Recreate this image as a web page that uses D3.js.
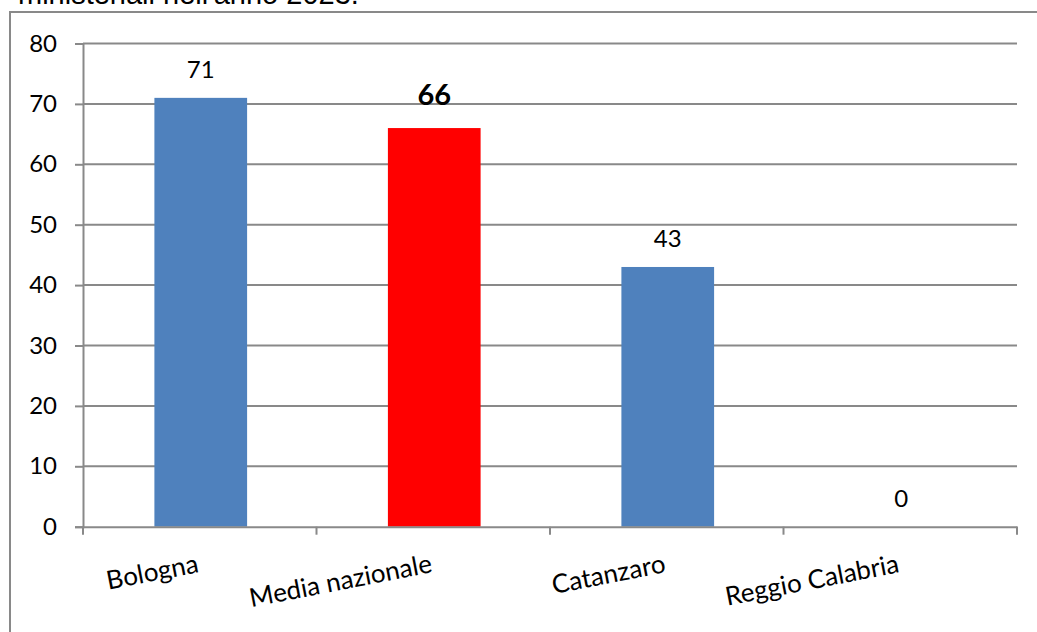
<!DOCTYPE html>
<html>
<head>
<meta charset="utf-8">
<script src="https://cdn.jsdelivr.net/npm/d3@7/dist/d3.min.js"></script>
<style>
  html, body { margin: 0; padding: 0; background: #fff; overflow: hidden; }
  svg { display: block; }
</style>
</head>
<body>
<svg id="chart" width="1037" height="632"></svg>
<script>
const categories = ["Bologna", "Media nazionale", "Catanzaro", "Reggio Calabria"];
const values = [71, 66, 43, 0];
const barColors = ["#4F81BD", "#FF0000", "#4F81BD", "#4F81BD"];
const highlighted = ["Media nazionale"];
const yTicks = [0, 10, 20, 30, 40, 50, 60, 70, 80];
const titleText = "ministeriali nell'anno 2023.";

const svg = d3.select("#chart");
const W = 1037, H = 632;
const plot = { left: 83, right: 1017, top: 43.5, bottom: 526.7 };
const gridColor = "#898989";
const labelFont = "Lato, 'Open Sans', sans-serif";

// Title (cut off at the top, as in the reference)
svg.append("text")
  .attr("x", 18).attr("y", 4)
  .attr("font-family", "'Liberation Sans', Arial, sans-serif")
  .attr("font-size", 29)
  .attr("fill", "#000")
  .text(titleText);

// Chart frame
svg.append("rect")
  .attr("x", 10).attr("y", 12)
  .attr("width", W + 20).attr("height", H + 20)
  .attr("fill", "#fff")
  .attr("stroke", gridColor).attr("stroke-width", 2);

const x = d3.scaleBand().domain(categories).range([plot.left, plot.right]).padding(0);
const y = d3.scaleLinear().domain([0, 80]).range([plot.bottom, plot.top]);

// Gridlines
svg.append("g").selectAll("line").data(yTicks.filter(t => t > 0)).join("line")
  .attr("x1", plot.left).attr("x2", plot.right)
  .attr("y1", d => y(d)).attr("y2", d => y(d))
  .attr("stroke", gridColor).attr("stroke-width", 2);

// Y axis
const yAxis = svg.append("g")
  .attr("transform", `translate(${plot.left},0)`)
  .call(d3.axisLeft(y).tickValues(yTicks).tickSize(8).tickPadding(18));
yAxis.select(".domain").attr("stroke", gridColor).attr("stroke-width", 2);
yAxis.selectAll(".tick line").attr("stroke", gridColor).attr("stroke-width", 2);
yAxis.selectAll(".tick text")
  .attr("font-family", labelFont).attr("font-size", 24).attr("fill", "#000");

// Bars
const barFrac = 0.397;
const bw = x.bandwidth() * barFrac;
svg.append("g").selectAll("rect").data(categories).join("rect")
  .attr("x", (d) => x(d) + x.bandwidth() / 2 - bw / 2 + 1)
  .attr("width", bw)
  .attr("y", (d, i) => y(values[i]))
  .attr("height", (d, i) => y(0) - y(values[i]))
  .attr("fill", (d, i) => barColors[i]);

// X axis
const xAxis = svg.append("g")
  .attr("transform", `translate(0,${plot.bottom})`)
  .call(d3.axisBottom(x).tickValues([]).tickSizeOuter(0));
xAxis.select(".domain").attr("stroke", gridColor).attr("stroke-width", 2);
// Tick marks at category boundaries
const boundaries = categories.map(c => x(c)).concat([x(categories[categories.length - 1]) + x.bandwidth()]);
svg.append("g").selectAll("line").data(boundaries).join("line")
  .attr("x1", d => d).attr("x2", d => d)
  .attr("y1", plot.bottom).attr("y2", plot.bottom + 8)
  .attr("stroke", gridColor).attr("stroke-width", 2);

// Category labels (rotated)
svg.append("g").selectAll("text").data(categories).join("text")
  .attr("transform", d => `translate(${x(d) + x.bandwidth() / 2},572) rotate(-11)`)
  .attr("text-anchor", "end")
  .attr("font-family", labelFont).attr("font-size", 26).attr("fill", "#000")
  .text(d => d);

// Value labels
svg.append("g").selectAll("text").data(categories).join("text")
  .attr("x", d => x(d) + x.bandwidth() / 2 + 1)
  .attr("y", (d, i) => y(values[i]) - (highlighted.includes(d) ? 23 : 20))
  .attr("text-anchor", "middle")
  .attr("font-family", labelFont)
  .attr("font-size", d => highlighted.includes(d) ? 29 : 24)
  .attr("font-weight", d => highlighted.includes(d) ? "bold" : "normal")
  .attr("fill", "#000")
  .text((d, i) => values[i]);
</script>
</body>
</html>
